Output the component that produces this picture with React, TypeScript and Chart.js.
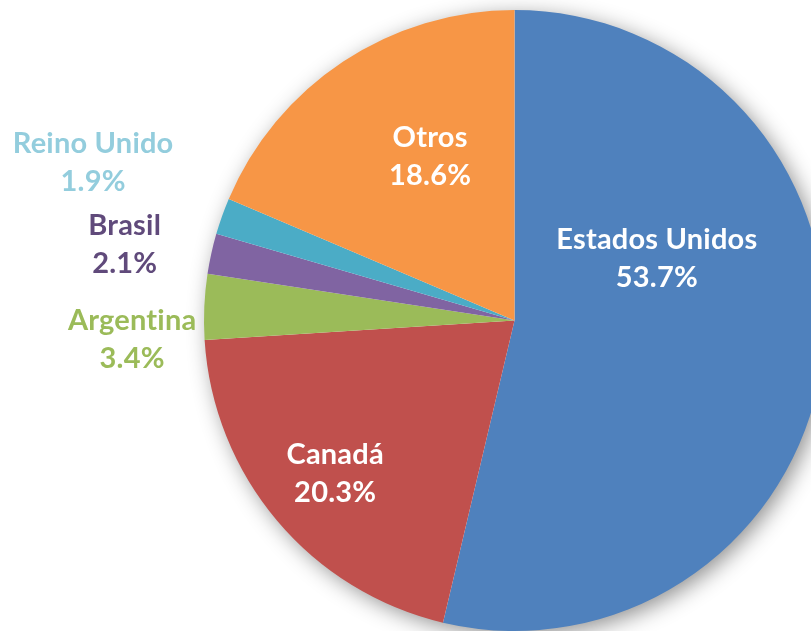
import React, { useEffect, useRef } from "react";
import { Chart, registerables } from "chart.js";

Chart.register(...registerables);

const categories = ["Estados Unidos", "Canadá", "Argentina", "Brasil", "Reino Unido", "Otros"];
const shares = [53.7, 20.3, 3.4, 2.1, 1.9, 18.6];
const sliceColors = ["#4F81BD", "#C0504D", "#9BBB59", "#8064A2", "#4BACC6", "#F79646"];
const labelColors = ["#FFFFFF", "#FFFFFF", "#9BBB59", "#604A7B", "#93CDDD", "#FFFFFF"];
// label placement (best-fit style): radius as fraction of outer radius, angle shift in degrees from slice middle
const labelRadius = [0.5, 0.76, 1.233, 1.279, 1.449, 0.593];
const labelShift = [-30.2, -0.4, -5.4, -1.4, 0.9, 6.2];

const FONT = "Lato, 'Open Sans', sans-serif";

const shadowPlugin = {
  id: "pieShadow",
  beforeDatasetsDraw(chart: any) {
    const meta = chart.getDatasetMeta(0);
    const arc = meta.data[0];
    if (!arc) return;
    const { x, y, outerRadius } = arc.getProps(["x", "y", "outerRadius"], true);
    const ctx = chart.ctx;
    ctx.save();
    ctx.shadowColor = "rgba(0,0,0,0.45)";
    ctx.shadowBlur = 22;
    ctx.shadowOffsetX = 5;
    ctx.shadowOffsetY = 5;
    ctx.fillStyle = "#ffffff";
    ctx.beginPath();
    ctx.arc(x, y, outerRadius - 1, 0, Math.PI * 2);
    ctx.fill();
    ctx.restore();
  },
};

const labelPlugin = {
  id: "pieLabels",
  afterDatasetsDraw(chart: any) {
    const meta = chart.getDatasetMeta(0);
    const data = chart.data.datasets[0].data as number[];
    const total = data.reduce((a, b) => a + b, 0);
    const ctx = chart.ctx;
    ctx.save();
    ctx.font = `bold 29px ${FONT}`;
    (ctx as any).letterSpacing = "0.2px";
    ctx.textAlign = "center";
    ctx.textBaseline = "middle";
    meta.data.forEach((arc: any, i: number) => {
      const { x, y, startAngle, endAngle, outerRadius } = arc.getProps(
        ["x", "y", "startAngle", "endAngle", "outerRadius"],
        true
      );
      const mid = (startAngle + endAngle) / 2 + (labelShift[i] * Math.PI) / 180;
      const r = outerRadius * labelRadius[i];
      const lx = x + Math.cos(mid) * r;
      const ly = y + Math.sin(mid) * r;
      ctx.fillStyle = labelColors[i];
      const pct = ((data[i] / total) * 100).toFixed(1) + "%";
      ctx.fillText(chart.data.labels[i], lx, ly - 19);
      ctx.fillText(pct, lx, ly + 19);
    });
    ctx.restore();
  },
};

export default function App() {
  const ref = useRef<HTMLCanvasElement>(null);
  useEffect(() => {
    if (!ref.current) return;
    const chart = new Chart(ref.current, {
      type: "pie",
      data: {
        labels: categories,
        datasets: [
          {
            data: shares,
            backgroundColor: sliceColors,
            borderWidth: 0,
          },
        ],
      },
      options: {
        responsive: false,
        animation: false,
        layout: { padding: 10 },
        plugins: {
          legend: { display: false },
          tooltip: { enabled: false },
        },
      },
      plugins: [shadowPlugin, labelPlugin],
    });
    return () => chart.destroy();
  }, []);
  return (
    <div
      style={{
        position: "fixed",
        left: 0,
        top: 0,
        width: 811,
        height: 631,
        overflow: "hidden",
        background: "#ffffff",
      }}
    >
      <canvas ref={ref} width={1029} height={641} style={{ display: "block" }} />
    </div>
  );
}
